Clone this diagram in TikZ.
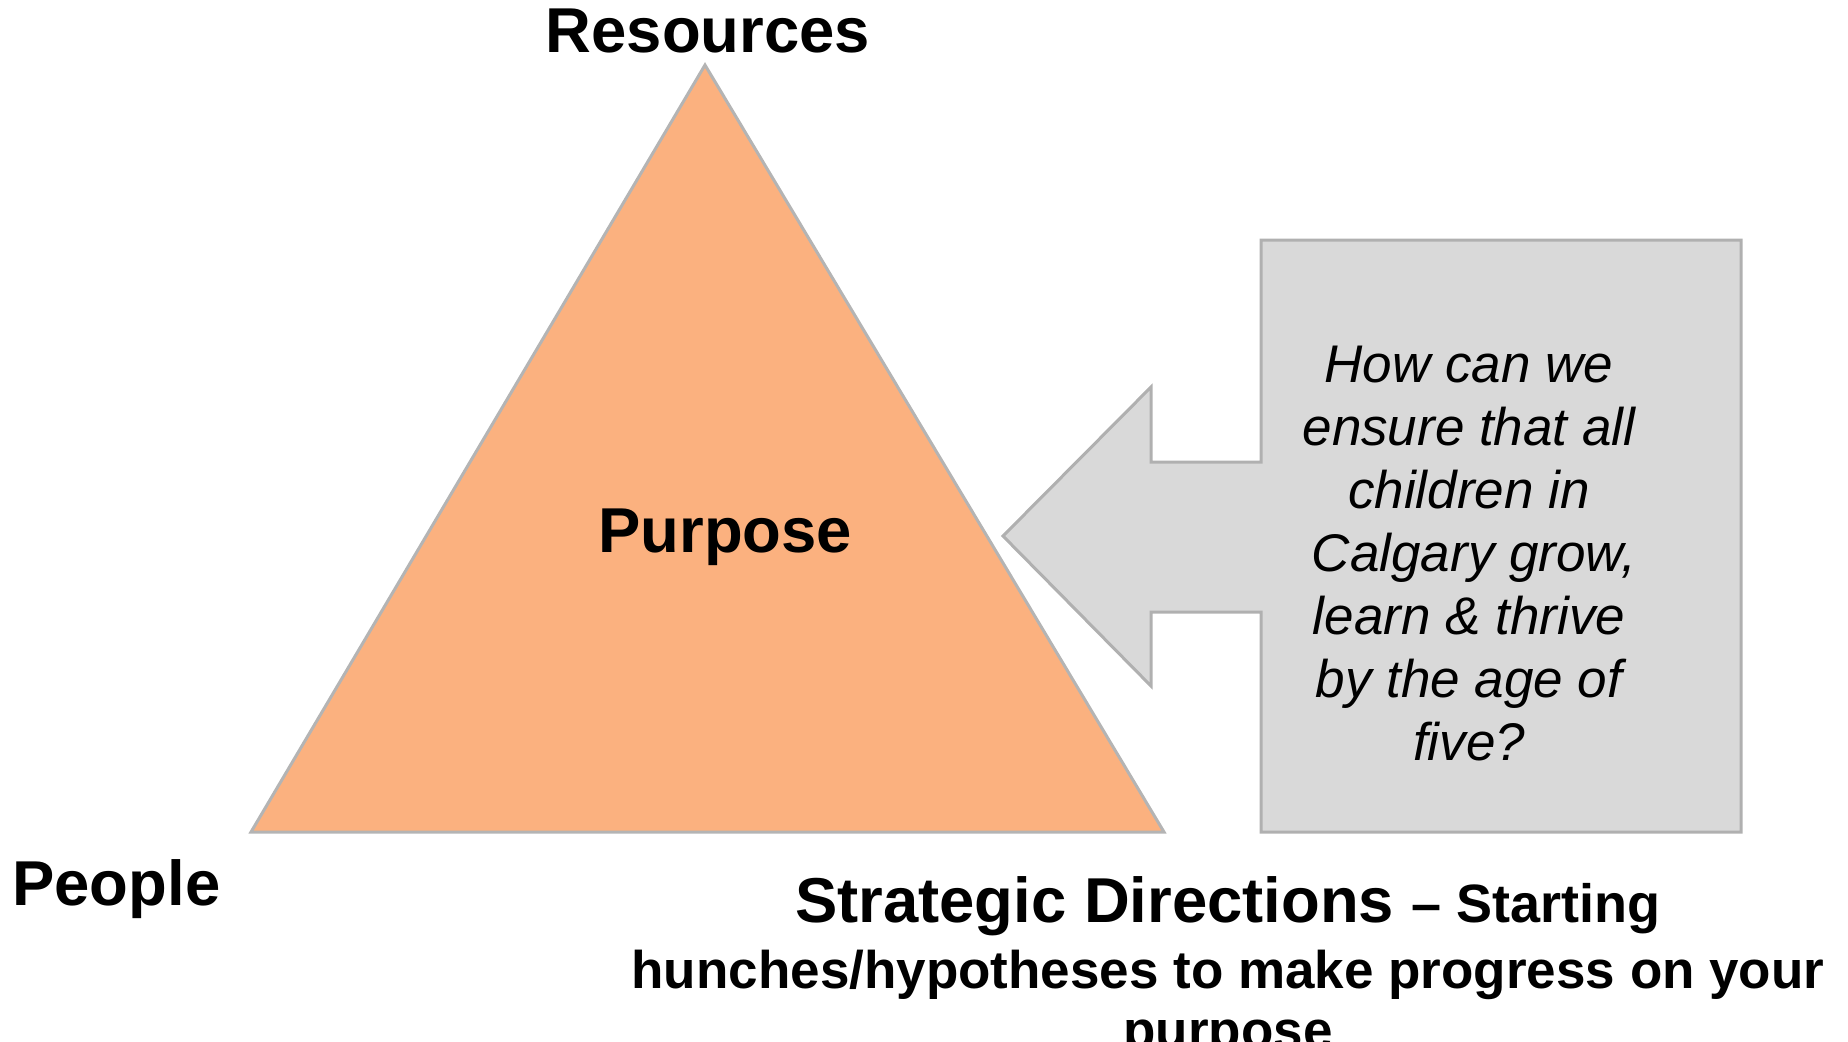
\documentclass[tikz,border=0pt]{standalone}
\usepackage{fontspec}
\setmainfont{Liberation Sans}
\definecolor{triFill}{RGB}{251,177,127}
\definecolor{triLine}{RGB}{180,180,180}
\definecolor{boxFill}{RGB}{217,217,217}
\definecolor{boxLine}{RGB}{176,176,176}
\tikzset{
  biglabel/.style={inner sep=0pt, font=\fontsize{31.7}{38}\selectfont\bfseries},
  qline/.style={inner sep=0pt, anchor=base, font=\fontsize{26.5}{31.5}\selectfont\itshape},
  sdline/.style={inner sep=0pt, anchor=base},
}
\begin{document}
\begin{tikzpicture}[x=0.5pt,y=-0.5pt]
\useasboundingbox (0,0) rectangle (1848,1041);
\clip (0,0) rectangle (1848,1041);
% triangle
\coordinate (apex) at (705,65);
\coordinate (bl) at (251,832);
\coordinate (br) at (1164,832);
\draw[fill=triFill, draw=triLine, line width=1.5pt, line join=miter] (apex) -- (br) -- (bl) -- cycle;
% callout
\draw[fill=boxFill, draw=boxLine, line width=1.5pt, line join=miter]
  (1261,240) -- (1741,240) -- (1741,832) -- (1261,832) -- (1261,612)
  -- (1151,612) -- (1151,686) -- (1003,536) -- (1151,387) -- (1151,462)
  -- (1261,462) -- cycle;
% labels
\node[biglabel, anchor=base] (res) at (708,52) {Resources};
\node[biglabel, anchor=base west] (pur) at (598,552) {Purpose};
\node[biglabel, anchor=base west] (peo) at (12,905) {People};
% question
\node[qline] (q1) at (1469,382) {How can we};
\node[qline] (q2) at (1469,445) {ensure that all};
\node[qline] (q3) at (1469,508) {children in};
\node[qline] (q4) at (1474,571) {Calgary grow,};
\node[qline] (q5) at (1469,634) {learn \& thrive};
\node[qline] (q6) at (1469,697) {by the age of};
\node[qline] (q7) at (1469,760) {five?};
% strategic directions
\node[sdline] (sd1) at (1228,922) {\bfseries\fontsize{31.7}{38}\selectfont Strategic Directions \fontsize{27}{32}\selectfont – Starting};
\node[sdline, font=\bfseries\fontsize{26.5}{31.5}\selectfont] (sd2) at (1228,988) {hunches/hypotheses to make progress on your};
\node[sdline, font=\bfseries\fontsize{26.5}{31.5}\selectfont] (sd3) at (1228,1048) {purpose};
\end{tikzpicture}
\end{document}
